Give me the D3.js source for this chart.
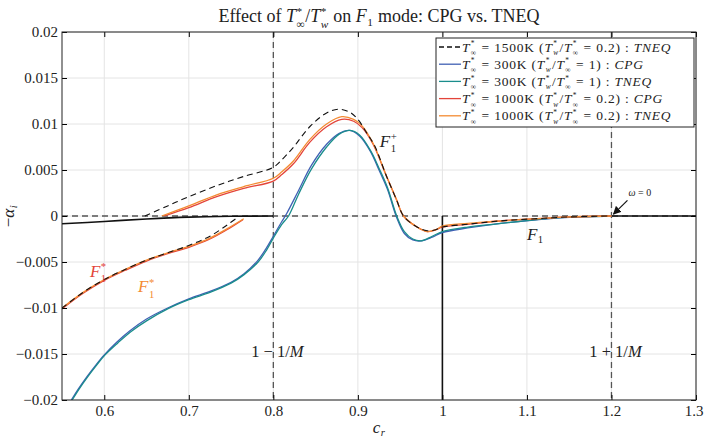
<!DOCTYPE html>
<html>
<head>
<meta charset="utf-8">
<script src="https://cdn.jsdelivr.net/npm/d3@7"></script>
<style>
  body { margin: 0; background: #fff; }
  svg text { font-family: "Liberation Serif", "DejaVu Serif", serif; white-space: pre; }
</style>
</head>
<body>
<div id="chart"></div>
<script>
// ---- data ----
const xTicks = [0.6, 0.7, 0.8, 0.9, 1.0, 1.1, 1.2, 1.3];
const yTicks = [-0.02, -0.015, -0.01, -0.005, 0, 0.005, 0.01, 0.015, 0.02];

// 1500K TNEQ, upper branch and F1* branch (dashed black)
const tneq1500Upper = [
  [0.648, 0], [0.675, 0.0011], [0.7, 0.0021], [0.733, 0.0033], [0.765, 0.0043], [0.8, 0.0053],
  [0.812, 0.0063], [0.824, 0.0075], [0.843, 0.0097], [0.863, 0.0112], [0.877, 0.0116],
  [0.89, 0.0113], [0.9, 0.0105], [0.91, 0.0091], [0.92, 0.0076], [0.934, 0.0043],
  [0.946, 0.0017], [0.954, 0], [0.97, -0.0012], [0.982, -0.0016], [0.992, -0.0015],
  [1.0, -0.0012], [1.03, -0.0009], [1.06, -0.0006], [1.09, -0.0004], [1.12, -0.00025],
  [1.15, -0.0001], [1.2, 0]
];
const tneq1500Lower = [
  [0.55, -0.0100], [0.575, -0.0083], [0.6, -0.0069], [0.625, -0.0058], [0.65, -0.0048],
  [0.675, -0.0040], [0.7, -0.0032], [0.725, -0.0022], [0.745, -0.0010], [0.757, -0.0002]
];

// 300K (Tw/Tinf = 1): CPG and TNEQ
const cpg300 = [
  [0.561, -0.02], [0.57, -0.0187], [0.58, -0.0174], [0.59, -0.0162], [0.6, -0.0151],
  [0.615, -0.0137], [0.63, -0.0125], [0.65, -0.0112], [0.675, -0.0100], [0.7, -0.0090],
  [0.725, -0.0082], [0.75, -0.0072], [0.765, -0.0063], [0.781, -0.0049], [0.791, -0.0036],
  [0.8, -0.0022], [0.81, -0.0006], [0.816, 0.0003], [0.83, 0.0028], [0.845, 0.0055],
  [0.863, 0.0078], [0.878, 0.0090], [0.89, 0.0093], [0.902, 0.0087], [0.915, 0.0070],
  [0.925, 0.0050], [0.935, 0.0029], [0.946, -0.0002], [0.955, -0.0019], [0.965, -0.0026],
  [0.975, -0.0027], [0.988, -0.0023], [1.0, -0.0018], [1.03, -0.0013], [1.06, -0.0009],
  [1.09, -0.0006], [1.12, -0.00035], [1.15, -0.00015], [1.2, 0]
];
const tneq300 = [
  [0.562, -0.02], [0.571, -0.0187], [0.581, -0.0174], [0.591, -0.0162], [0.601, -0.0151],
  [0.616, -0.0138], [0.631, -0.0126], [0.65, -0.0114], [0.675, -0.0101], [0.7, -0.0091],
  [0.725, -0.0083], [0.75, -0.0073], [0.765, -0.0064], [0.782, -0.0050], [0.792, -0.0037],
  [0.8, -0.0024], [0.81, -0.0009], [0.818, 0], [0.83, 0.0024], [0.845, 0.0051],
  [0.863, 0.0075], [0.878, 0.0089], [0.891, 0.0093], [0.902, 0.0088], [0.915, 0.0071],
  [0.925, 0.0052], [0.935, 0.0031], [0.946, 0], [0.955, -0.0017], [0.965, -0.0025],
  [0.975, -0.0027], [0.988, -0.0022], [1.0, -0.0017], [1.03, -0.0012], [1.06, -0.0009],
  [1.09, -0.0006], [1.12, -0.0003], [1.15, -0.00012], [1.2, 0]
];

// 1000K (Tw/Tinf = 0.2): CPG and TNEQ, upper branch and F1* branch
const cpg1000Upper = [
  [0.671, 0], [0.7, 0.0009], [0.733, 0.0021], [0.765, 0.0030], [0.8, 0.0038], [0.81, 0.0045],
  [0.824, 0.0057], [0.843, 0.0080], [0.863, 0.0097], [0.881, 0.0105], [0.895, 0.0103],
  [0.905, 0.0096], [0.918, 0.0078], [0.934, 0.0043], [0.946, 0.0017], [0.954, 0],
  [0.97, -0.0012], [0.982, -0.0017], [0.992, -0.0015], [1.0, -0.0012], [1.03, -0.0009],
  [1.06, -0.0006], [1.09, -0.0004], [1.12, -0.00025], [1.15, -0.0001], [1.2, 0]
];
const tneq1000Upper = [
  [0.668, 0], [0.7, 0.0011], [0.733, 0.0023], [0.765, 0.0032], [0.8, 0.0041], [0.81, 0.0048],
  [0.824, 0.0060], [0.843, 0.0083], [0.863, 0.0100], [0.881, 0.0108], [0.895, 0.0105],
  [0.905, 0.0098], [0.918, 0.0079], [0.934, 0.0043], [0.946, 0.0017], [0.954, 0],
  [0.97, -0.0012], [0.982, -0.0017], [0.992, -0.0015], [1.0, -0.0011], [1.03, -0.0008],
  [1.06, -0.0006], [1.09, -0.0004], [1.12, -0.00025], [1.15, -0.0001], [1.2, 0]
];
const cpg1000Lower = [
  [0.55, -0.0101], [0.575, -0.0084], [0.6, -0.0070], [0.625, -0.0059], [0.65, -0.0049],
  [0.675, -0.0041], [0.7, -0.0034], [0.725, -0.0025], [0.745, -0.0015], [0.764, -0.0004]
];
const tneq1000Lower = [
  [0.55, -0.0100], [0.575, -0.0083], [0.6, -0.0069], [0.625, -0.0058], [0.65, -0.0048],
  [0.675, -0.0040], [0.7, -0.0033], [0.725, -0.0024], [0.745, -0.0014], [0.765, -0.0003]
];

// black solid reference branches
const blackLeft = [[0.55, -0.00085], [0.6, -0.0006], [0.65, -0.00032], [0.7, -0.00012], [0.75, -0.00003], [0.8, 0]];
const blackVert = [[1.0, 0], [1.0, -0.02]];
const blackRight = [[1.2, 0], [1.3, 0]];

// ---- layout ----
const width = 704, height = 440;
const xScale = d3.scaleLinear().domain([0.55, 1.3]).range([62, 696]);
const yScale = d3.scaleLinear().domain([-0.02, 0.02]).range([400, 32]);

const svg = d3.select("#chart").append("svg")
  .attr("width", width).attr("height", height)
  .attr("viewBox", [0, 0, width, height]);

const colors = {
  blue: "#4060b4",
  teal: "#1a8d8c",
  red: "#e3443a",
  orange: "#f48b32",
  dash: "#555"
};

// math-ish text as ONE text element: strings upright, {i} italic, {sup, sub} stacked scripts
function mathText(parent, x, y, parts, size, anchor, fill, spacing, scriptScale) {
  const g = parent.append("g");
  const pieces = [];
  const ls = spacing || 0;
  const sc = scriptScale || 0.63;
  let cx = 0;
  const measure = (str, fs, italic) => {
    const t = g.append("text").attr("font-size", fs)
      .style("letter-spacing", ls + "px")
      .style("font-style", italic ? "italic" : "normal").text(str);
    const w = t.node().getComputedTextLength();
    t.remove();
    return w;
  };
  parts.forEach((p) => {
    if (typeof p === "string" || p.i !== undefined) {
      const str = typeof p === "string" ? p : p.i;
      const it = typeof p !== "string";
      pieces.push({ str, x: cx, y: 0, fs: size, it });
      cx += measure(str, size, it);
    } else {
      const s = size * sc;
      let w = 0;
      if (p.sup) {
        pieces.push({ str: p.sup, x: cx + 0.5, y: -size * 0.4, fs: s, it: !!p.supI });
        w = Math.max(w, measure(p.sup, s, p.supI));
      }
      if (p.sub) {
        const dn = p.sup ? Math.max(0.26, sc * 1.12 - 0.4) : 0.2;
        pieces.push({ str: p.sub, x: cx + 0.5, y: size * dn, fs: s, it: !!p.subI });
        w = Math.max(w, measure(p.sub, s, p.subI));
      }
      cx += w + 1;
    }
  });
  const text = g.append("text").attr("fill", fill).style("letter-spacing", ls + "px");
  pieces.forEach((pc) => {
    text.append("tspan")
      .attr("x", pc.x).attr("y", pc.y)
      .attr("font-size", pc.fs)
      .style("font-style", pc.it ? "italic" : "normal")
      .text(pc.str);
  });
  const shift = anchor === "middle" ? -cx / 2 : anchor === "end" ? -cx : 0;
  g.attr("transform", `translate(${x + shift},${y})`);
  g.property("mathWidth", cx);
  return g;
}

// grid
const grid = svg.append("g").attr("stroke", "#e4e4e4").attr("stroke-width", 1);
grid.selectAll("line.gx").data(xTicks).join("line")
  .attr("x1", (d) => xScale(d)).attr("x2", (d) => xScale(d))
  .attr("y1", yScale(-0.02)).attr("y2", yScale(0.02));
grid.selectAll("line.gy").data(yTicks).join("line")
  .attr("y1", (d) => yScale(d)).attr("y2", (d) => yScale(d))
  .attr("x1", xScale(0.55)).attr("x2", xScale(1.3));

// reference dashed lines
const refs = svg.append("g").attr("stroke", colors.dash).attr("stroke-width", 1.3)
  .attr("stroke-dasharray", "6,4").attr("fill", "none");
[0.8, 1.2].forEach((v) => {
  refs.append("line")
    .attr("x1", xScale(v)).attr("x2", xScale(v))
    .attr("y1", yScale(0.02)).attr("y2", yScale(-0.02));
});
refs.append("line")
  .attr("x1", xScale(0.55)).attr("x2", xScale(1.3))
  .attr("y1", yScale(0)).attr("y2", yScale(0));

// curves
const line = d3.line()
  .x((d) => xScale(d[0]))
  .y((d) => yScale(d[1]))
  .curve(d3.curveCatmullRom.alpha(0.5));

svg.append("clipPath").attr("id", "plotclip").append("rect")
  .attr("x", xScale(0.55)).attr("y", yScale(0.02))
  .attr("width", xScale(1.3) - xScale(0.55)).attr("height", yScale(-0.02) - yScale(0.02));

const curves = svg.append("g").attr("clip-path", "url(#plotclip)").attr("fill", "none");

function drawCurve(data, color, w, dash) {
  curves.append("path")
    .datum(data)
    .attr("d", line)
    .attr("stroke", color)
    .attr("stroke-width", w)
    .attr("stroke-dasharray", dash || null);
}

drawCurve(blackLeft, "#111", 1.6);
drawCurve(blackVert, "#111", 1.6);
drawCurve(blackRight, "#111", 1.6);
drawCurve(cpg300, colors.blue, 1.3);
drawCurve(tneq300, colors.teal, 1.3);
drawCurve(cpg1000Upper, colors.red, 1.3);
drawCurve(cpg1000Lower, colors.red, 1.3);
drawCurve(tneq1000Upper, colors.orange, 1.3);
drawCurve(tneq1000Lower, colors.orange, 1.3);
drawCurve(tneq1500Upper, "#111", 1.1, "6,4");
drawCurve(tneq1500Lower, "#111", 1.1, "6,4");

// frame and axes (ticks inward on all sides)
const fmtY = (d) => (d === 0 ? "0" : (d < 0 ? "\u2212" : "") + String(Math.abs(d)));
const fmtX = (d) => String(d);

svg.append("g")
  .attr("transform", `translate(0,${yScale(-0.02)})`)
  .call(d3.axisBottom(xScale).tickValues(xTicks).tickFormat(fmtX).tickSize(-5).tickPadding(5))
  .call((g) => g.select(".domain").remove())
  .call((g) => g.selectAll("text").attr("font-size", 15).attr("font-family", "Liberation Serif").attr("fill", "#222"))
  // last label sits on the window edge: end-anchor it so it stays inside
  .call((g) => g.selectAll("text").filter((d) => d === 1.3).attr("text-anchor", "end").attr("x", 7));
svg.append("g")
  .attr("transform", `translate(0,${yScale(0.02)})`)
  .call(d3.axisTop(xScale).tickValues(xTicks).tickFormat("").tickSize(-5))
  .call((g) => g.select(".domain").remove());
svg.append("g")
  .attr("transform", `translate(${xScale(0.55)},0)`)
  .call(d3.axisLeft(yScale).tickValues(yTicks).tickFormat(fmtY).tickSize(-5).tickPadding(4))
  .call((g) => g.select(".domain").remove())
  .call((g) => g.selectAll("text").attr("font-size", 15).attr("font-family", "Liberation Serif").attr("fill", "#222"));
svg.append("g")
  .attr("transform", `translate(${xScale(1.3)},0)`)
  .call(d3.axisRight(yScale).tickValues(yTicks).tickFormat("").tickSize(-5))
  .call((g) => g.select(".domain").remove());

svg.append("rect")
  .attr("x", xScale(0.55)).attr("y", yScale(0.02))
  .attr("width", xScale(1.3) - xScale(0.55)).attr("height", yScale(-0.02) - yScale(0.02))
  .attr("fill", "none").attr("stroke", "#222").attr("stroke-width", 1);

// title and axis labels
const Tinf = [{ i: "T" }, { sup: "*", sub: "\u221e" }];
const Tw = [{ i: "T" }, { sup: "*", sub: "w", subI: true }];
mathText(svg, (xScale(0.55) + xScale(1.3)) / 2, 22,
  ["Effect of ", ...Tinf, "/", ...Tw, " on ", { i: "F" }, { sub: "1" }, " mode: CPG vs. TNEQ"],
  18, "middle", "#222");
mathText(svg, (xScale(0.55) + xScale(1.3)) / 2, 433, [{ i: "c" }, { sub: "r", subI: true }], 17, "middle", "#222");
const yLab = mathText(svg, 0, 0, ["\u2212", { i: "\u03b1" }, { sub: "i", subI: true }], 17, "start", "#222");
yLab.attr("transform", `translate(14,${yScale(0) + yLab.property("mathWidth") / 2}) rotate(-90)`);

// annotations
mathText(svg, xScale(0.926), yScale(0.0075), [{ i: "F" }, { sup: "+", sub: "1" }], 17, "start", "#222");
mathText(svg, xScale(1.1), yScale(-0.0026), [{ i: "F" }, { sub: "1" }], 17, "start", "#222");
mathText(svg, xScale(0.583), yScale(-0.0066), [{ i: "F" }, { sup: "*", sub: "1" }], 17, "start", colors.red);
mathText(svg, xScale(0.64), yScale(-0.0083), [{ i: "F" }, { sup: "*", sub: "1" }], 17, "start", colors.orange);
mathText(svg, xScale(0.8) + 4, yScale(-0.0153), ["1 \u2212 1/", { i: "M" }], 16.5, "middle", "#222");
mathText(svg, xScale(1.2) + 4, yScale(-0.0153), ["1 + 1/", { i: "M" }], 16.5, "middle", "#222");
mathText(svg, xScale(1.2) + 17, yScale(0.0022), [{ i: "\u03c9" }, " = 0"], 10, "start", "#222");

svg.append("defs").append("marker")
  .attr("id", "arrow").attr("viewBox", "0 0 10 10")
  .attr("refX", 9).attr("refY", 5)
  .attr("markerWidth", 7).attr("markerHeight", 7)
  .attr("orient", "auto")
  .append("path").attr("d", "M0,0 L10,5 L0,10 z").attr("fill", "#111");
svg.append("line")
  .attr("x1", xScale(1.2) + 16).attr("y1", yScale(0.0017))
  .attr("x2", xScale(1.2) + 2).attr("y2", yScale(0.0002))
  .attr("stroke", "#111").attr("stroke-width", 1.2)
  .attr("marker-end", "url(#arrow)");

// legend
const legendRows = [
  { color: "#111", dash: "5,3", parts: [...Tinf, " = 1500K (", ...Tw, "/", ...Tinf, " = 0.2) : ", { i: "TNEQ" }] },
  { color: colors.blue, parts: [...Tinf, " = 300K (", ...Tw, "/", ...Tinf, " = 1) : ", { i: "CPG" }] },
  { color: colors.teal, parts: [...Tinf, " = 300K (", ...Tw, "/", ...Tinf, " = 1) : ", { i: "TNEQ" }] },
  { color: colors.red, parts: [...Tinf, " = 1000K (", ...Tw, "/", ...Tinf, " = 0.2) : ", { i: "CPG" }] },
  { color: colors.orange, parts: [...Tinf, " = 1000K (", ...Tw, "/", ...Tinf, " = 0.2) : ", { i: "TNEQ" }] }
];

const legend = svg.append("g").attr("id", "legend");
legend.append("rect")
  .attr("x", 436).attr("y", 38).attr("width", 258).attr("height", 89)
  .attr("fill", "#fff").attr("stroke", "#222").attr("stroke-width", 1);
legendRows.forEach((r, i) => {
  const cy = 47 + i * 17.2;
  legend.append("line")
    .attr("x1", 439).attr("x2", 461).attr("y1", cy).attr("y2", cy)
    .attr("stroke", r.color).attr("stroke-width", 1.3)
    .attr("stroke-dasharray", r.dash || null);
  mathText(legend, 462, cy + 4.5, r.parts, 13.5, "start", "#222", 0.8, 0.55);
});
</script>
</body>
</html>
